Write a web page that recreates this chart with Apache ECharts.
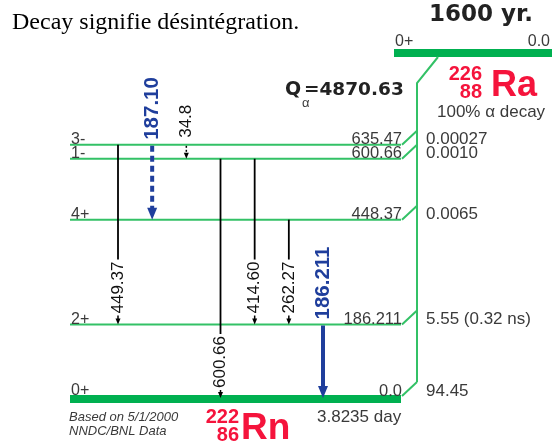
<!DOCTYPE html>
<html>
<head>
<meta charset="utf-8">
<script src="https://cdn.jsdelivr.net/npm/echarts@6/dist/echarts.min.js"></script>
<style>
  html, body { margin: 0; padding: 0; background: #fff; }
  #chart { width: 555px; height: 441px; }
</style>
</head>
<body>
<div id="chart"></div>
<script>
// 226Ra alpha decay to levels of 222Rn

// daughter levels (keV), spins and alpha branchings (%)
const levelEnergies = [0.0, 186.211, 448.37, 600.66, 635.47];
const levelLabels = ['0.0', '186.211', '448.37', '600.66', '635.47'];
const levelSpins = ['0+', '2+', '4+', '1-', '3-'];
const alphaBranches = ['94.45', '5.55 (0.32 ns)', '0.0065', '0.0010', '0.00027'];

// gamma transitions, left to right
const gammaLabels = ['449.37', '187.10', '34.8', '600.66', '414.60', '262.27', '186.211'];
const gammaFrom = [635.47, 635.47, 635.47, 600.66, 600.66, 448.37, 186.211];
const gammaTo = [186.211, 448.37, 600.66, 0.0, 186.211, 186.211, 0.0];
const gammaStrong = [false, true, false, false, false, false, true];
const gammaUncertain = [false, true, true, false, false, false, false];

// parent
const parentEnergies = [0.0];
const parentSpin = '0+';
const parentEnergyLabel = '0.0';
const parentHalfLife = '1600 yr.';
const qAlpha = '4870.63';
const daughterHalfLife = '3.8235 day';

const SANS = '"Liberation Sans", Arial, sans-serif';
const WIDE = '"DejaVu Sans", sans-serif';
const TEXT = '#3a3a3a';
const GREEN = '#00b050';
const LEVEL_GREEN = '#33c166';
const BLUE = '#1f3e9c';
const RED = '#f5143c';

const measureCtx = document.createElement('canvas').getContext('2d');
function textWidth(t, font) {
  measureCtx.font = font;
  return measureCtx.measureText(t).width;
}

function arrowHead(x, tip, w, h, color) {
  return {
    type: 'polygon',
    shape: { points: [[x - w / 2, tip - h], [x + w / 2, tip - h], [x, tip]] },
    style: { fill: color }
  };
}

function vText(x, y, text, font, color) {
  return {
    type: 'text', x: x, y: y, rotation: Math.PI / 2,
    style: { text: text, font: font, fill: color, align: 'left', verticalAlign: 'middle' }
  };
}

function renderLevel(params, api) {
  const i = params.dataIndex;
  const cs = params.coordSys;
  const e = api.value(0);
  const y = api.coord([0, e])[1];
  const ground = e === 0;
  const thick = ground ? 8 : 2;
  const left = cs.x, right = cs.x + cs.width;
  const trunkX = right + 16;
  const topEdge = y - thick / 2;
  const ty = topEdge - 4;
  return {
    type: 'group',
    children: [
      { type: 'line', shape: { x1: left, y1: y, x2: right, y2: y },
        style: { stroke: ground ? GREEN : LEVEL_GREEN, lineWidth: thick } },
      { type: 'text', x: left + 1, y: ty,
        style: { text: levelSpins[i], font: '16px ' + SANS, fill: TEXT, align: 'left', verticalAlign: 'middle' } },
      { type: 'text', x: right + 1, y: ty,
        style: { text: levelLabels[i], font: '16.5px ' + SANS, fill: TEXT, align: 'right', verticalAlign: 'middle' } },
      { type: 'line', shape: { x1: right + 1, y1: topEdge + 1, x2: trunkX, y2: topEdge - 13 },
        style: { stroke: LEVEL_GREEN, lineWidth: 2 } },
      { type: 'text', x: right + 25, y: ty,
        style: { text: alphaBranches[i], font: '17px ' + SANS, fill: TEXT, align: 'left', verticalAlign: 'middle' } }
    ]
  };
}

function renderParent(params, api) {
  const cs = params.coordSys;
  const right = cs.x + cs.width;
  const trunkX = right + 16;
  const groundY = api.coord([0, 0])[1];
  const barY = 53;
  const barL = right - 7, barR = right + 151;
  return {
    type: 'group',
    children: [
      { type: 'line', shape: { x1: barL, y1: barY, x2: barR, y2: barY },
        style: { stroke: GREEN, lineWidth: 8 } },
      { type: 'polyline',
        shape: { points: [[right + 37, barY + 4], [trunkX, barY + 30], [trunkX, groundY - 4 - 13]] },
        style: { stroke: LEVEL_GREEN, lineWidth: 2, fill: null } },
      { type: 'text', x: barL + 1, y: barY - 11,
        style: { text: parentSpin, font: '16px ' + SANS, fill: TEXT, align: 'left', verticalAlign: 'middle' } },
      { type: 'text', x: barR - 2, y: barY - 11,
        style: { text: parentEnergyLabel, font: '16px ' + SANS, fill: TEXT, align: 'right', verticalAlign: 'middle' } },
      { type: 'text', x: (barL + barR) / 2 + 8, y: 15,
        style: { text: parentHalfLife, font: 'bold 23px ' + WIDE, fill: '#222', align: 'center', verticalAlign: 'middle' } }
    ]
  };
}

function renderGamma(params, api) {
  const i = params.dataIndex;
  const p1 = api.coord([api.value(0), api.value(1)]);
  const p2 = api.coord([api.value(0), api.value(2)]);
  const x = p1[0], y1 = p1[1], y2 = p2[1];
  const tip = api.value(2) === 0 ? y2 - 1 : y2;
  const strong = gammaStrong[i];
  const dashed = gammaUncertain[i];
  const children = [];
  if (strong) {
    const font = 'bold 20.5px ' + SANS;
    const headW = 10, headH = 12;
    children.push({
      type: 'line', shape: { x1: x, y1: y1 + 1, x2: x, y2: tip - headH + 1 },
      style: { stroke: BLUE, lineWidth: 4, lineDash: dashed ? [6, 4] : null }
    });
    children.push(arrowHead(x, tip, headW, headH, BLUE));
    children.push(vText(x, y1 - 5, gammaLabels[i], font, BLUE));
  } else {
    const font = '17px ' + SANS;
    const L = textWidth(gammaLabels[i], font);
    const headW = 5, headH = 6;
    if (y2 - y1 > L + 30) {
      const labelBottom = y2 - 11;
      const labelTop = labelBottom - L;
      children.push({
        type: 'line', shape: { x1: x, y1: y1, x2: x, y2: labelTop - 2 },
        style: { stroke: '#000', lineWidth: 1.8 }
      });
      children.push({
        type: 'line', shape: { x1: x, y1: labelBottom + 2, x2: x, y2: tip - headH + 1 },
        style: { stroke: '#000', lineWidth: 1.5 }
      });
      children.push(arrowHead(x, tip, headW, headH, '#000'));
      children.push(vText(x, labelBottom, gammaLabels[i], font, '#111'));
    } else {
      children.push({
        type: 'line', shape: { x1: x, y1: y1 + 1, x2: x, y2: tip - headH + 1 },
        style: { stroke: '#000', lineWidth: 1.5, lineDash: dashed ? [2, 2] : null }
      });
      children.push(arrowHead(x, tip, headW, headH, '#000'));
      children.push(vText(x, y1 - 7, gammaLabels[i], font, '#111'));
    }
  }
  return { type: 'group', children: children };
}

const chart = echarts.init(document.getElementById('chart'), null, { renderer: 'canvas' });

chart.setOption({
  backgroundColor: '#fff',
  animation: false,
  grid: { left: 70, top: 139, width: 331, height: 260 },
  xAxis: { type: 'value', min: -1.405, max: 8.283, show: false },
  yAxis: { type: 'value', min: 0, max: 650, show: false },
  series: [
    {
      type: 'custom', name: 'levels', z: 1,
      renderItem: renderLevel,
      data: levelEnergies.map(e => [e])
    },
    {
      type: 'custom', name: 'parent', z: 1,
      renderItem: renderParent,
      data: parentEnergies.map(e => [e])
    },
    {
      type: 'custom', name: 'gammas', z: 3,
      renderItem: renderGamma,
      data: gammaLabels.map((g, i) => [i, gammaFrom[i], gammaTo[i]])
    }
  ],
  graphic: [
    { type: 'text', x: 12, y: 23,
      style: { text: 'Decay signifie désintégration.', font: '24px "Liberation Serif", "Times New Roman", serif',
               fill: '#000', verticalAlign: 'middle' } },
    { type: 'text', x: 285, y: 90,
      style: { text: 'Q', font: 'bold 19px ' + WIDE, fill: '#222', verticalAlign: 'middle' } },
    { type: 'text', x: 302, y: 103,
      style: { text: 'α', font: '13px ' + SANS, fill: TEXT, verticalAlign: 'middle' } },
    { type: 'text', x: 304, y: 90,
      style: { text: '=' + qAlpha, font: 'bold 18.5px ' + WIDE, fill: '#222', verticalAlign: 'middle' } },
    { type: 'text', x: 482, y: 74,
      style: { text: '226', font: 'bold 20px ' + SANS, fill: RED, align: 'right', verticalAlign: 'middle' } },
    { type: 'text', x: 482, y: 92.5,
      style: { text: '88', font: 'bold 20px ' + SANS, fill: RED, align: 'right', verticalAlign: 'middle' } },
    { type: 'text', x: 491, y: 86,
      style: { text: 'Ra', font: 'bold 36px ' + SANS, fill: RED, verticalAlign: 'middle' } },
    { type: 'text', x: 437, y: 112,
      style: { text: '100% α decay', font: '17px ' + SANS, fill: TEXT, verticalAlign: 'middle' } },
    { type: 'text', x: 239, y: 417.5,
      style: { text: '222', font: 'bold 20px ' + SANS, fill: RED, align: 'right', verticalAlign: 'middle' } },
    { type: 'text', x: 239, y: 435.5,
      style: { text: '86', font: 'bold 20px ' + SANS, fill: RED, align: 'right', verticalAlign: 'middle' } },
    { type: 'text', x: 241, y: 429,
      style: { text: 'Rn', font: 'bold 37px ' + SANS, fill: RED, verticalAlign: 'middle' } },
    { type: 'text', x: 317, y: 417,
      style: { text: daughterHalfLife, font: '17px ' + SANS, fill: TEXT, verticalAlign: 'middle' } },
    { type: 'text', x: 69, y: 417,
      style: { text: 'Based on 5/1/2000', font: 'italic 13px ' + SANS, fill: TEXT, verticalAlign: 'middle' } },
    { type: 'text', x: 69, y: 431,
      style: { text: 'NNDC/BNL Data', font: 'italic 13px ' + SANS, fill: TEXT, verticalAlign: 'middle' } }
  ]
});
</script>
</body>
</html>
